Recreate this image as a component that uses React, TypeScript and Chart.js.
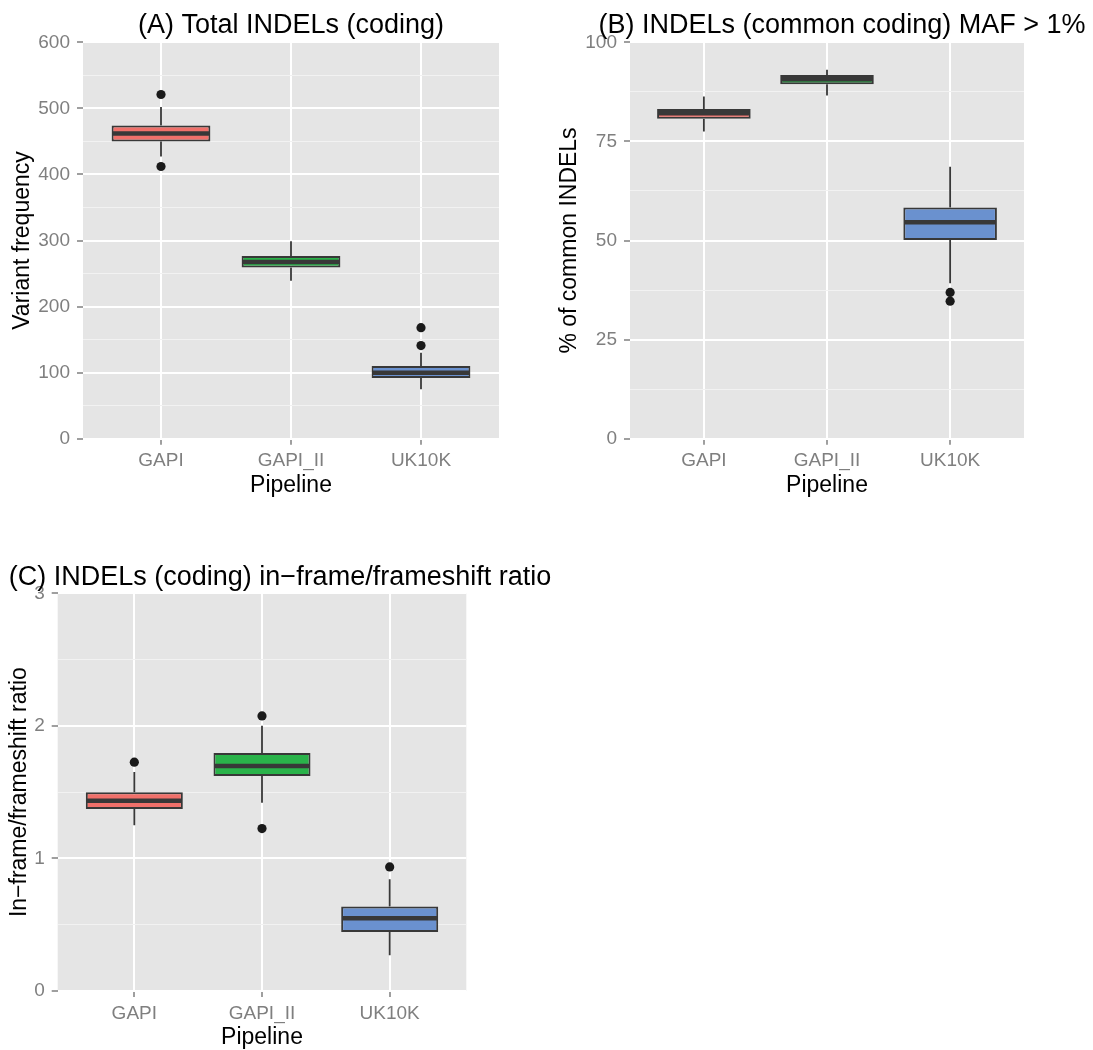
import React, { useEffect, useRef } from "react";
import { Chart, registerables } from "chart.js";

Chart.register(...registerables);

// ---------- data ----------
const categories = ["GAPI", "GAPI_II", "UK10K"];

// (A) Total INDELs (coding)
const totalLow = [427, 239, 75];
const totalQ1 = [450, 259, 92];
const totalMedian = [462, 267.5, 100];
const totalQ3 = [474, 276.5, 110];
const totalHigh = [502, 299, 130];
const totalOutliers = [[521, 412], [], [168, 141]];
const totalTicks = [0, 50, 100, 150, 200, 250, 300, 350, 400, 450, 500, 550, 600];
const totalTickLabels = [0, 100, 200, 300, 400, 500, 600];

// (B) INDELs (common coding) MAF > 1%
const commonLow = [77.5, 86.6, 39.2];
const commonQ1 = [80.7, 89.4, 50.1];
const commonMedian = [82.1, 90.7, 54.6];
const commonQ3 = [83.2, 91.75, 58.3];
const commonHigh = [86.3, 93.1, 68.6];
const commonOutliers = [[], [], [36.9, 34.7]];
const commonTicks = [0, 12.5, 25, 37.5, 50, 62.5, 75, 87.5, 100];
const commonTickLabels = [0, 25, 50, 75, 100];

// (C) INDELs (coding) in-frame/frameshift ratio
const ratioLow = [1.25, 1.42, 0.27];
const ratioQ1 = [1.373, 1.622, 0.446];
const ratioMedian = [1.436, 1.698, 0.549];
const ratioQ3 = [1.5, 1.796, 0.637];
const ratioHigh = [1.652, 2.0, 0.843];
const ratioOutliers = [[1.726], [2.075, 1.225], [0.936]];
const ratioTicks = [0, 0.5, 1, 1.5, 2, 2.5, 3];
const ratioTickLabels = [0, 1, 2, 3];

// ---------- styles ----------
const FONT = "'Liberation Sans', Arial, Helvetica, sans-serif";
const FILLS = ["#F0706A", "#2AB34A", "#6A91CF"];
const OUTLINE = "#383838";
const PANEL_BG = "#E5E5E5";
const TICK_GREY = "#7F7F7F";

type Spec = {
  title: string;
  titleX: number;
  titleY: number;
  yTitle: string;
  yTitlePad: number;
  low: number[];
  q1: number[];
  med: number[];
  q3: number[];
  high: number[];
  outliers: number[][];
  ticks: number[];
  tickLabels: number[];
  left: number;
  top: number;
  width: number;
  height: number;
  yAxisWidth: number;
  padTop: number;
  padRight: number;
  xAxisHeight: number;
  padBottom: number;
};

const specs: Spec[] = [
  {
    title: "(A) Total INDELs (coding)",
    titleX: 291,
    titleY: 33,
    yTitle: "Variant frequency",
    yTitlePad: 11,
    low: totalLow,
    q1: totalQ1,
    med: totalMedian,
    q3: totalQ3,
    high: totalHigh,
    outliers: totalOutliers,
    ticks: totalTicks,
    tickLabels: totalTickLabels,
    left: 0,
    top: 0,
    width: 546,
    height: 510,
    yAxisWidth: 83,
    padTop: 42.3,
    padRight: 47,
    xAxisHeight: 58,
    padBottom: 13.3,
  },
  {
    title: "(B) INDELs (common coding) MAF > 1%",
    titleX: 296,
    titleY: 33,
    yTitle: "% of common INDELs",
    yTitlePad: 12,
    low: commonLow,
    q1: commonQ1,
    med: commonMedian,
    q3: commonQ3,
    high: commonHigh,
    outliers: commonOutliers,
    ticks: commonTicks,
    tickLabels: commonTickLabels,
    left: 546,
    top: 0,
    width: 547,
    height: 510,
    yAxisWidth: 84,
    padTop: 42.3,
    padRight: 69,
    xAxisHeight: 58,
    padBottom: 13.3,
  },
  {
    title: "(C) INDELs (coding) in\u2212frame/frameshift ratio",
    titleX: 280,
    titleY: 45,
    yTitle: "In\u2212frame/frameshift ratio",
    yTitlePad: 8,
    low: ratioLow,
    q1: ratioQ1,
    med: ratioMedian,
    q3: ratioQ3,
    high: ratioHigh,
    outliers: ratioOutliers,
    ticks: ratioTicks,
    tickLabels: ratioTickLabels,
    left: 0,
    top: 540,
    width: 620,
    height: 510,
    yAxisWidth: 57.7,
    padTop: 53.3,
    padRight: 153.7,
    xAxisHeight: 58,
    padBottom: 1,
  },
];

function Panel({ spec }: { spec: Spec }) {
  const ref = useRef<HTMLCanvasElement>(null);

  useEffect(() => {
    const canvas = ref.current;
    if (!canvas) return;
    const positions = categories.map((_, i) => i + 1);
    const isMajor = (v: number) => spec.tickLabels.some((t) => Math.abs(t - v) < 1e-9);

    const outlierPoints: { x: number; y: number }[] = [];
    spec.outliers.forEach((vals, i) => vals.forEach((v) => outlierPoints.push({ x: i + 1, y: v })));

    const boxPlugin = {
      id: "boxExtras",
      beforeDraw(chart: any) {
        const { ctx, chartArea } = chart;
        ctx.save();
        ctx.fillStyle = PANEL_BG;
        ctx.fillRect(chartArea.left, chartArea.top, chartArea.right - chartArea.left, chartArea.bottom - chartArea.top);
        ctx.restore();
      },
      beforeDatasetsDraw(chart: any) {
        const { ctx } = chart;
        const xs = chart.scales.x;
        const ys = chart.scales.y;
        ctx.save();
        ctx.strokeStyle = OUTLINE;
        ctx.lineWidth = 1.8;
        positions.forEach((p, i) => {
          const x = xs.getPixelForValue(p);
          ctx.beginPath();
          ctx.moveTo(x, ys.getPixelForValue(spec.high[i]));
          ctx.lineTo(x, ys.getPixelForValue(spec.q3[i]));
          ctx.moveTo(x, ys.getPixelForValue(spec.q1[i]));
          ctx.lineTo(x, ys.getPixelForValue(spec.low[i]));
          ctx.stroke();
        });
        ctx.restore();
      },
      afterDatasetsDraw(chart: any) {
        const { ctx } = chart;
        const ys = chart.scales.y;
        const meta = chart.getDatasetMeta(0);
        ctx.save();
        ctx.strokeStyle = OUTLINE;
        ctx.lineWidth = 4.5;
        meta.data.forEach((bar: any, i: number) => {
          const y = ys.getPixelForValue(spec.med[i]);
          ctx.beginPath();
          ctx.moveTo(bar.x - bar.width / 2 + 1, y);
          ctx.lineTo(bar.x + bar.width / 2 - 1, y);
          ctx.stroke();
        });
        ctx.restore();
      },
      afterDraw(chart: any) {
        const { ctx } = chart;
        ctx.save();
        ctx.font = `27px ${FONT}`;
        ctx.fillStyle = "#000000";
        ctx.textAlign = "center";
        ctx.textBaseline = "alphabetic";
        ctx.fillText(spec.title, spec.titleX, spec.titleY);
        ctx.restore();
      },
    };

    const chart = new Chart(canvas, {
      type: "bar",
      data: {
        datasets: [
          {
            type: "bar",
            data: positions.map((x, i) => ({ x, y: [spec.q1[i], spec.q3[i]] })) as any,
            backgroundColor: FILLS,
            borderColor: OUTLINE,
            borderWidth: 2,
            borderSkipped: false,
            barPercentage: 0.76,
            categoryPercentage: 1,
            grouped: false,
            order: 2,
          } as any,
          {
            type: "scatter",
            data: outlierPoints,
            pointRadius: 4.6,
            pointBackgroundColor: "#1A1A1A",
            pointBorderWidth: 0,
            borderWidth: 0,
            order: 1,
          } as any,
        ],
      },
      options: {
        responsive: false,
        animation: false,
        events: [],
        layout: {
          padding: { top: spec.padTop, right: spec.padRight, bottom: spec.padBottom, left: 0 },
        },
        plugins: {
          legend: { display: false },
          tooltip: { enabled: false },
          title: { display: false },
        },
        scales: {
          x: {
            type: "linear",
            min: 0.4,
            max: 3.6,
            offset: false,
            afterBuildTicks: (scale: any) => {
              scale.ticks = positions.map((v) => ({ value: v }));
            },
            afterFit: (scale: any) => {
              scale.height = spec.xAxisHeight;
            },
            ticks: {
              autoSkip: false,
              maxRotation: 0,
              padding: 5,
              color: TICK_GREY,
              font: { family: FONT, size: 19 },
              callback: (v: any) => categories[Math.round(Number(v)) - 1] ?? "",
            },
            grid: {
              offset: false,
              color: "#FFFFFF",
              lineWidth: 2,
              drawTicks: true,
              tickLength: 6,
              tickColor: TICK_GREY,
              tickWidth: 1.5,
            },
            border: { display: false },
            title: {
              display: true,
              text: "Pipeline",
              color: "#000000",
              font: { family: FONT, size: 23, lineHeight: 1.0 },
              padding: { top: 0, bottom: 0 },
            },
          },
          y: {
            type: "linear",
            min: spec.ticks[0],
            max: spec.ticks[spec.ticks.length - 1],
            afterBuildTicks: (scale: any) => {
              scale.ticks = spec.ticks.map((v) => ({ value: v }));
            },
            afterFit: (scale: any) => {
              scale.width = spec.yAxisWidth;
            },
            ticks: {
              autoSkip: false,
              padding: 7,
              color: TICK_GREY,
              font: { family: FONT, size: 19 },
              callback: (v: any) => (isMajor(Number(v)) ? String(v) : ""),
            },
            grid: {
              color: (c: any) => (isMajor(c.tick?.value) ? "#FFFFFF" : "#F2F2F2"),
              lineWidth: (c: any) => (isMajor(c.tick?.value) ? 2 : 1),
              drawTicks: true,
              tickLength: 6,
              tickColor: (c: any) => (isMajor(c.tick?.value) ? TICK_GREY : "rgba(0,0,0,0)"),
              tickWidth: 1.5,
            },
            border: { display: false },
            title: {
              display: true,
              text: spec.yTitle,
              color: "#000000",
              font: { family: FONT, size: 23, lineHeight: 1.0 },
              padding: { top: spec.yTitlePad, bottom: 0 },
            },
          },
        },
      } as any,
      plugins: [boxPlugin],
    });

    return () => chart.destroy();
  }, [spec]);

  return (
    <canvas
      ref={ref}
      width={spec.width}
      height={spec.height}
      style={{
        position: "absolute",
        left: spec.left,
        top: spec.top,
        width: spec.width,
        height: spec.height,
      }}
    />
  );
}

export default function App() {
  return (
    <div
      style={{
        position: "absolute",
        left: 0,
        top: 0,
        width: 1093,
        height: 1050,
        overflow: "hidden",
        background: "#FFFFFF",
      }}
    >
      {specs.map((s, i) => (
        <Panel key={i} spec={s} />
      ))}
    </div>
  );
}
